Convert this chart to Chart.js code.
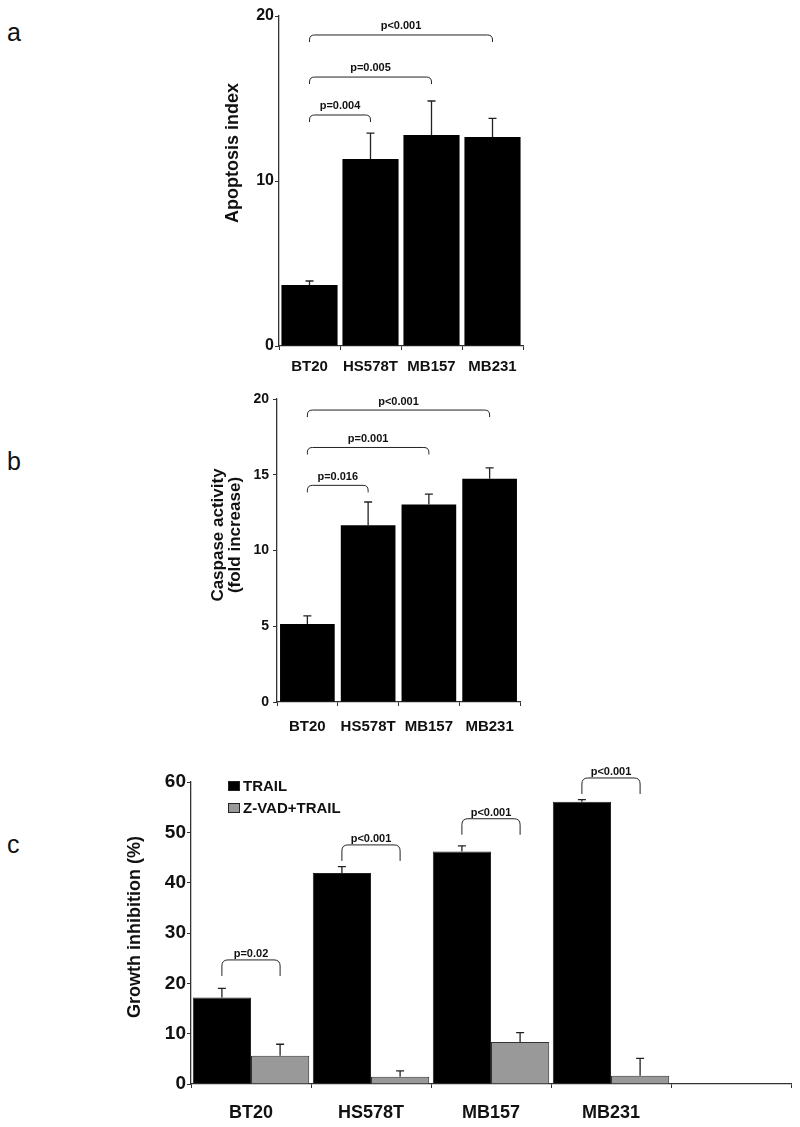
<!DOCTYPE html>
<html>
<head>
<meta charset="utf-8">
<script src="https://cdn.jsdelivr.net/npm/chart.js@4/dist/chart.umd.min.js"></script>
<style>
  body { margin: 0; background: #fff; }
  #page { position: relative; width: 800px; height: 1127px; font-family: "Liberation Sans", Arial, sans-serif; }
  #page canvas { position: absolute; left: 0; }
  .panel { position: absolute; left: 7px; font-size: 25px; line-height: 25px; color: #111; }
</style>
</head>
<body>
<div id="page">
  <div class="panel" style="top:20px">a</div>
  <div class="panel" style="top:449px">b</div>
  <div class="panel" style="top:832px">c</div>
  <canvas id="chartA" width="800" height="380" style="top:0px"></canvas>
  <canvas id="chartB" width="800" height="360" style="top:380px"></canvas>
  <canvas id="chartC" width="800" height="387" style="top:740px"></canvas>
</div>
<script>
// values
const cellLines = ['BT20', 'HS578T', 'MB157', 'MB231'];

const apoptosisMean = [3.7, 11.33, 12.79, 12.67];
const apoptosisErr = [0.24, 1.57, 2.06, 1.13];
const apoptosisPText = ['p=0.004', 'p=0.005', 'p<0.001'];
const apoptosisPTo = [1, 2, 3];
const apoptosisPLevel = [14.0, 16.3, 18.85];

const caspaseMean = [5.15, 11.67, 13.04, 14.73];
const caspaseErr = [0.54, 1.53, 0.68, 0.73];
const caspasePText = ['p=0.016', 'p=0.001', 'p<0.001'];
const caspasePTo = [1, 2, 3];
const caspasePLevel = [14.3, 16.8, 19.27];

const growthCategories = ['BT20', 'HS578T', 'MB157', 'MB231', ''];
const trailMean = [17.2, 41.9, 46.2, 56.1];
const trailErr = [1.8, 1.3, 1.1, 0.4];
const zvadMean = [5.6, 1.45, 8.35, 1.65];
const zvadErr = [2.3, 1.15, 1.85, 3.45];
const growthPText = ['p=0.02', 'p<0.001', 'p<0.001', 'p<0.001'];
const growthPLevel = [24.65, 47.5, 52.7, 60.8];

const FONT = '"Liberation Sans", Arial, sans-serif';
const INK = '#111';
const AXIS = '#333';

function font(size, weight) {
    return (weight || 'bold') + ' ' + size + 'px ' + FONT;
}

// T-shaped upper error bars, read from dataset.errors
const errorBars = {
    id: 'errorBars',
    afterDatasetsDraw(chart, args, opts) {
        const ctx = chart.ctx;
        const yScale = chart.scales.y;
        chart.data.datasets.forEach((ds, i) => {
            if (!ds.errors) return;
            chart.getDatasetMeta(i).data.forEach((bar, j) => {
                if (ds.errors[j] == null) return;
                const top = yScale.getPixelForValue(ds.data[j] + ds.errors[j]);
                ctx.save();
                ctx.strokeStyle = '#222';
                ctx.lineWidth = 1.3;
                ctx.beginPath();
                ctx.moveTo(bar.x, bar.y);
                ctx.lineTo(bar.x, top);
                ctx.moveTo(bar.x - opts.cap, top);
                ctx.lineTo(bar.x + opts.cap, top);
                ctx.stroke();
                ctx.restore();
            });
        });
    }
};

// significance brackets: each end is [datasetIndex, index]
const brackets = {
    id: 'brackets',
    afterDraw(chart, args, opts) {
        if (!opts.items) return;
        const ctx = chart.ctx;
        const yScale = chart.scales.y;
        opts.items.forEach((it) => {
            const x1 = chart.getDatasetMeta(it.from[0]).data[it.from[1]].x;
            const x2 = chart.getDatasetMeta(it.to[0]).data[it.to[1]].x;
            const y = yScale.getPixelForValue(it.level);
            const r = opts.radius;
            ctx.save();
            ctx.strokeStyle = '#222';
            ctx.lineWidth = 1;
            ctx.beginPath();
            ctx.moveTo(x1, y + opts.leg);
            ctx.lineTo(x1, y + r);
            ctx.quadraticCurveTo(x1, y, x1 + r, y);
            ctx.lineTo(x2 - r, y);
            ctx.quadraticCurveTo(x2, y, x2, y + r);
            ctx.lineTo(x2, y + opts.leg);
            ctx.stroke();
            ctx.fillStyle = INK;
            ctx.font = font(opts.size);
            ctx.textAlign = 'center';
            ctx.textBaseline = 'alphabetic';
            ctx.fillText(it.text, (x1 + x2) / 2, y - opts.gap);
            ctx.restore();
        });
    }
};

// rotated y axis title, one entry per line
const sideTitle = {
    id: 'sideTitle',
    afterDraw(chart, args, opts) {
        if (!opts.lines) return;
        const ctx = chart.ctx;
        ctx.save();
        ctx.fillStyle = INK;
        ctx.font = font(opts.size);
        ctx.textAlign = 'center';
        ctx.textBaseline = 'middle';
        opts.lines.forEach((line, i) => {
            ctx.save();
            ctx.translate(opts.x[i], opts.y);
            ctx.rotate(-Math.PI / 2);
            ctx.fillText(line, 0, 0);
            ctx.restore();
        });
        ctx.restore();
    }
};

// boxed legend inside panel c
const boxLegend = {
    id: 'boxLegend',
    afterDraw(chart, args, opts) {
        if (!opts.show) return;
        const ctx = chart.ctx;
        ctx.save();
        ctx.font = font(opts.size);
        ctx.textBaseline = 'middle';
        chart.data.datasets.forEach((ds, i) => {
            const y = opts.y + i * opts.step;
            ctx.fillStyle = ds.backgroundColor;
            ctx.fillRect(opts.x, y - 5, 12, 10);
            ctx.strokeStyle = '#222';
            ctx.lineWidth = 1;
            ctx.strokeRect(opts.x + 0.5, y - 4.5, 11, 9);
            ctx.fillStyle = INK;
            ctx.fillText(ds.label, opts.x + 15, y + 1);
        });
        ctx.restore();
    }
};

Chart.register(errorBars, brackets, sideTitle, boxLegend);

function makeScales(o) {
    return {
        x: {
            offset: true,
            grid: { display: true, drawOnChartArea: false, tickLength: 4, color: AXIS, offset: true },
            border: { color: AXIS, width: 1.3 },
            ticks: { font: { family: FONT, size: o.xSize, weight: 'bold' }, color: INK, padding: o.xPad, maxRotation: 0, autoSkip: false },
            afterFit(s) { s.height = o.xHeight; }
        },
        y: {
            min: 0,
            max: o.max,
            grid: { display: true, drawOnChartArea: false, tickLength: 4, color: AXIS },
            border: { color: AXIS, width: 1.3 },
            ticks: { stepSize: o.step, font: { family: FONT, size: o.ySize, weight: 'bold' }, color: INK, padding: o.yPad },
            afterFit(s) { s.width = o.left; }
        }
    };
}

function pairItems(texts, toIdx, levels) {
    return texts.map((t, i) => ({ from: [0, 0], to: [0, toIdx[i]], level: levels[i], text: t }));
}

const baseOpts = {
    responsive: false,
    devicePixelRatio: 1,
    animation: false,
    events: []
};

new Chart(document.getElementById('chartA'), {
    type: 'bar',
    data: {
        labels: cellLines,
        datasets: [{
            data: apoptosisMean,
            errors: apoptosisErr,
            backgroundColor: '#000',
            borderColor: '#000',
            borderWidth: 0,
            barPercentage: 0.92,
            categoryPercentage: 1.0
        }]
    },
    options: Object.assign({}, baseOpts, {
        layout: { padding: { top: 16, right: 277, left: 0, bottom: 0 } },
        scales: makeScales({ max: 20, step: 10, left: 279, xHeight: 34, xSize: 15, ySize: 16, xPad: 8, yPad: 1 }),
        plugins: {
            legend: { display: false },
            tooltip: { enabled: false },
            errorBars: { cap: 4 },
            brackets: { items: pairItems(apoptosisPText, apoptosisPTo, apoptosisPLevel), leg: 7, radius: 5, gap: 6, size: 11 },
            sideTitle: { lines: ['Apoptosis index'], x: [233], y: 153, size: 18 }
        }
    })
});

new Chart(document.getElementById('chartB'), {
    type: 'bar',
    data: {
        labels: cellLines,
        datasets: [{
            data: caspaseMean,
            errors: caspaseErr,
            backgroundColor: '#000',
            borderColor: '#000',
            borderWidth: 0,
            barPercentage: 0.9,
            categoryPercentage: 1.0
        }]
    },
    options: Object.assign({}, baseOpts, {
        layout: { padding: { top: 19, right: 280, left: 0, bottom: 0 } },
        scales: makeScales({ max: 20, step: 5, left: 277, xHeight: 38, xSize: 15, ySize: 14, xPad: 12, yPad: 4 }),
        plugins: {
            legend: { display: false },
            tooltip: { enabled: false },
            errorBars: { cap: 4 },
            brackets: { items: pairItems(caspasePText, caspasePTo, caspasePLevel), leg: 7, radius: 5, gap: 5, size: 11 },
            sideTitle: { lines: ['Caspase activity', '(fold increase)'], x: [218, 235], y: 155, size: 17 }
        }
    })
});

new Chart(document.getElementById('chartC'), {
    type: 'bar',
    data: {
        labels: growthCategories,
        datasets: [{
            label: 'TRAIL',
            data: trailMean,
            errors: trailErr,
            backgroundColor: '#000',
            borderColor: '#222',
            borderWidth: 1,
            barPercentage: 1.0,
            categoryPercentage: 0.97
        }, {
            label: 'Z-VAD+TRAIL',
            data: zvadMean,
            errors: zvadErr,
            backgroundColor: '#999',
            borderColor: '#333',
            borderWidth: 1,
            barPercentage: 1.0,
            categoryPercentage: 0.97
        }]
    },
    options: Object.assign({}, baseOpts, {
        layout: { padding: { top: 42, right: 9, left: 0, bottom: 0 } },
        scales: makeScales({ max: 60, step: 10, left: 191, xHeight: 43, xSize: 18, ySize: 19, xPad: 14, yPad: 1 }),
        plugins: {
            legend: { display: false },
            tooltip: { enabled: false },
            errorBars: { cap: 4 },
            brackets: {
                items: growthPText.map((t, i) => ({ from: [0, i], to: [1, i], level: growthPLevel[i], text: t })),
                leg: 16, radius: 6, gap: 3, size: 11
            },
            sideTitle: { lines: ['Growth inhibition (%)'], x: [135], y: 187, size: 18 },
            boxLegend: { show: true, x: 228, y: 46, step: 22, size: 15 }
        }
    })
});
</script>
</body>
</html>
